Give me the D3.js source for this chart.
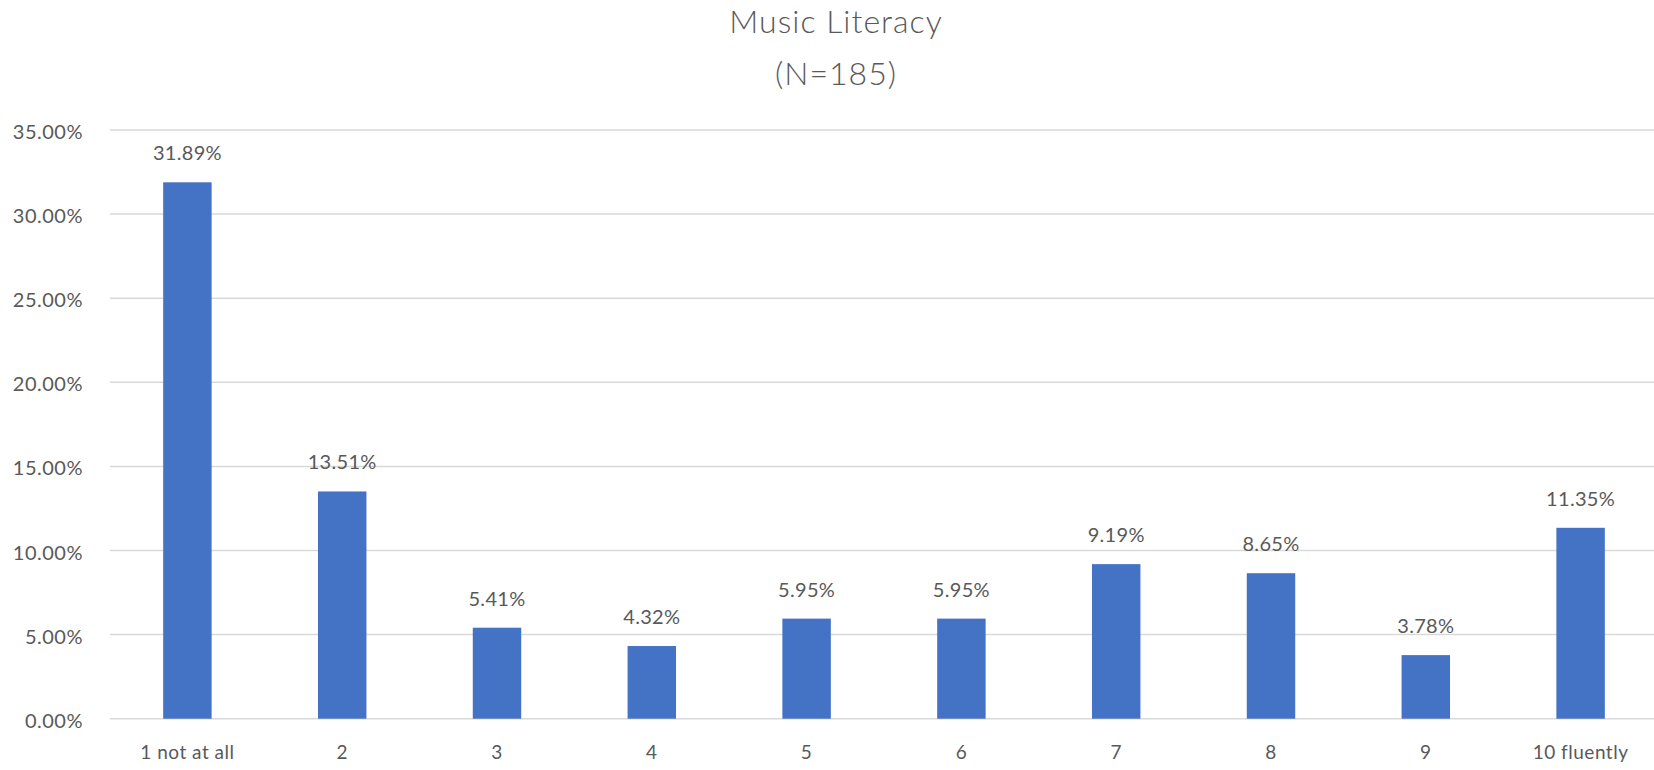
<!DOCTYPE html>
<html><head><meta charset="utf-8">
<script src="https://cdn.jsdelivr.net/npm/d3@7"></script>
<style>
html,body{margin:0;padding:0;background:#fff;}
text{font-family:Lato,"Open Sans",sans-serif;fill:#595959;}
</style></head>
<body>
<svg id="chart" width="1654" height="770"></svg>
<script>
const categories = ["1 not at all","2","3","4","5","6","7","8","9","10 fluently"];
const values = [31.89,13.51,5.41,4.32,5.95,5.95,9.19,8.65,3.78,11.35];
const yTicks = [0,5,10,15,20,25,30,35];
const titleLines = ["Music Literacy","(N=185)"];

const svg = d3.select("#chart");
const x = d3.scaleBand().domain(categories).range([110,1658]).paddingInner(0.687).paddingOuter(0.3435);
const y = d3.scaleLinear().domain([0,35]).range([718.7,130]);

// gridlines
svg.append("g").selectAll("line").data(yTicks).join("line")
  .attr("x1",110).attr("x2",1654)
  .attr("y1",d=>y(d)).attr("y2",d=>y(d))
  .attr("stroke","#d9d9d9").attr("stroke-width",1.5);

// y labels
svg.append("g").selectAll("text").data(yTicks).join("text")
  .attr("x",83).attr("y",d=>y(d)+4)
  .attr("text-anchor","end").attr("font-size",20).attr("dominant-baseline","middle")
  .style("letter-spacing","0.5px")
  .text(d=>d.toFixed(2)+"%");

// bars
svg.append("g").selectAll("rect").data(values).join("rect")
  .attr("x",(d,i)=>x(categories[i]))
  .attr("width",x.bandwidth())
  .attr("y",d=>y(d))
  .attr("height",d=>y(0)-y(d))
  .attr("fill","#4472C4");

// data labels
svg.append("g").selectAll("text").data(values).join("text")
  .attr("x",(d,i)=>x(categories[i])+x.bandwidth()/2)
  .attr("y",d=>y(d)-22)
  .attr("text-anchor","middle").attr("font-size",20)
  .style("letter-spacing","0.3px")
  .text(d=>d.toFixed(2)+"%");

// x labels
svg.append("g").selectAll("text").data(categories).join("text")
  .attr("x",d=>x(d)+x.bandwidth()/2)
  .attr("y",759)
  .attr("text-anchor","middle").attr("font-size",19)
  .style("letter-spacing","0.5px")
  .text(d=>d);

// title
svg.append("g").selectAll("text").data(titleLines).join("text")
  .attr("x",836).attr("y",(d,i)=>33+i*52)
  .attr("text-anchor","middle").attr("font-size",32).attr("font-weight",300)
  .style("letter-spacing","1px")
  .text(d=>d);
</script>
</body></html>
